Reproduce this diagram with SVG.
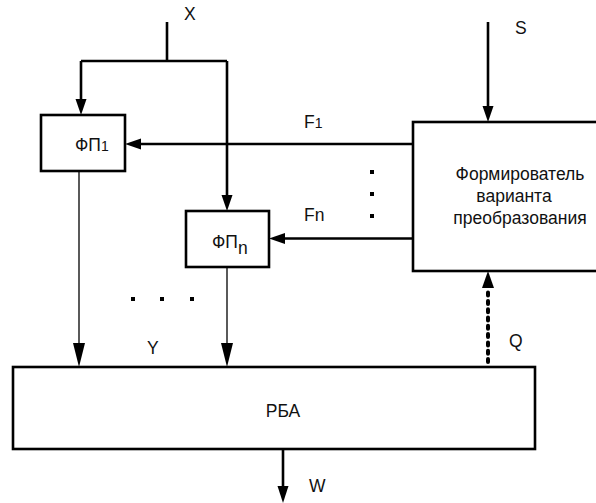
<svg xmlns="http://www.w3.org/2000/svg" width="596" height="503" viewBox="0 0 596 503">
<style>
.box{fill:#fff;stroke:#000;stroke-width:2.6}
.thick{fill:none;stroke:#000;stroke-width:2.6}
.thin{fill:none;stroke:#000;stroke-width:1.3}
.q{fill:none;stroke:#000;stroke-width:4;stroke-linecap:round;stroke-dasharray:3 5.3}
.ah{fill:#000;stroke:none}
text{font-family:"Liberation Sans",Arial,sans-serif;font-size:17.5px;fill:#111}
.dot{fill:#000}
</style>
<rect width="596" height="503" fill="#fff"/>
<g id="connectors">
  <path class="thick" d="M167,22 V61 M81,61 H227 M81,61 V100 M227,61 V196"/>
  <polygon class="ah" points="75.5,99 86.5,99 81,115"/>
  <polygon class="ah" points="221.5,195 232.5,195 227,211"/>
  <path class="thick" d="M413,144 H140"/>
  <polygon class="ah" points="141,138.5 141,149.5 125,144"/>
  <path class="thick" d="M413,238.5 H284"/>
  <polygon class="ah" points="285,233 285,244 269,238.5"/>
  <path class="thick" d="M488,22 V107"/>
  <polygon class="ah" points="482.5,106 493.5,106 488,122"/>
  <path class="thin" d="M79,171 V345"/>
  <polygon class="ah" points="73,343 85,343 79,367"/>
  <path class="thin" d="M227,267 V345"/>
  <polygon class="ah" points="221,343 233,343 227,367"/>
  <path class="q" d="M488,362 V290"/>
  <polygon class="ah" points="482,288 494,288 488,271"/>
  <path class="thick" d="M283,449 V487"/>
  <polygon class="ah" points="277.5,486 288.5,486 283,503"/>
</g>
<g id="fp1">
  <rect class="box" x="41" y="115" width="84" height="56"/>
  <text x="75" y="151">ФП<tspan font-size="14">1</tspan></text>
</g>
<g id="fpn">
  <rect class="box" x="186" y="211" width="83" height="56"/>
  <text x="212" y="248">ФП<tspan dy="6">n</tspan></text>
</g>
<g id="former">
  <rect class="box" x="413" y="122" width="190" height="149"/>
  <text x="520" y="180" text-anchor="middle">Формирователь</text>
  <text x="514" y="202" text-anchor="middle">варианта</text>
  <text x="520" y="224" text-anchor="middle">преобразования</text>
</g>
<g id="rba">
  <rect class="box" x="13" y="367" width="522" height="82"/>
  <text x="283" y="417" text-anchor="middle">РБА</text>
</g>
<g id="labels">
  <text x="184" y="20">X</text>
  <text x="515" y="34">S</text>
  <text x="304" y="128">F<tspan font-size="14">1</tspan></text>
  <text x="304" y="221">Fn</text>
  <text x="147" y="354">Y</text>
  <text x="509" y="347">Q</text>
  <text x="309" y="492">W</text>
  <rect class="dot" x="370" y="170" width="4" height="4"/>
  <rect class="dot" x="370" y="192" width="4" height="4"/>
  <rect class="dot" x="370" y="214" width="4" height="4"/>
  <rect class="dot" x="131" y="297" width="4" height="4"/>
  <rect class="dot" x="160" y="297" width="4" height="4"/>
  <rect class="dot" x="190" y="297" width="4" height="4"/>
</g>
</svg>
